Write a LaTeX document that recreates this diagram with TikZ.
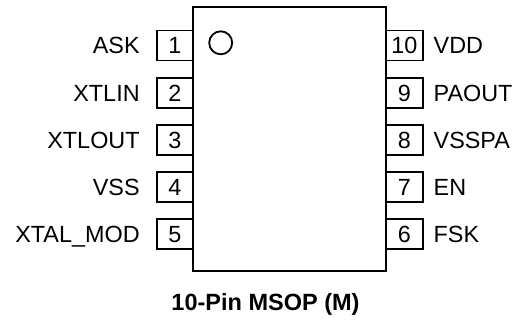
\documentclass[tikz,border=0pt]{standalone}
\usepackage{fontspec}
\setmainfont{Liberation Sans}
\usetikzlibrary{positioning}

\begin{document}
\begin{tikzpicture}[x=1pt, y=-1pt,
    pinbox/.style={draw, line width=1.8pt, minimum width=36.5pt, minimum height=30pt, inner sep=0pt, text height=16.8pt, text depth=0pt, font=\fontsize{23.4}{23.4}\selectfont},
    pinname/.style={inner sep=0pt, text height=16.8pt, text depth=0pt, font=\fontsize{23.4}{23.4}\selectfont}]
    \useasboundingbox (0,0) rectangle (517,321);
    \node[draw, line width=2pt, minimum width=193pt, minimum height=264.3pt] (chip) at (289.8,138.8) {};
    \node[circle, draw, line width=1.8pt, minimum size=23pt, inner sep=0pt] (dot) at (220.7,42.8) {};

    % left side
    \foreach \n/\pinlabel [count=\i from 0] in {1/ASK, 2/XTLIN, 3/XTLOUT, 4/VSS, 5/XTAL\_MOD} {
        \node[pinbox] (p\n) at (175,45.5+47.2*\i) {\n};
        \node[pinname, left=16pt of p\n] (l\n) {\pinlabel};
    }
    % right side
    \foreach \n/\pinlabel [count=\i from 0] in {10/VDD, 9/PAOUT, 8/VSSPA, 7/EN, 6/FSK} {
        \node[pinbox] (p\n) at (404.5,45.5+47.2*\i) {\n};
        \node[pinname, right=9.8pt of p\n] (l\n) {\pinlabel};
    }

    \node[font=\bfseries\fontsize{23.5}{23.5}\selectfont, anchor=base] (title) at (265.5,310) {10-Pin MSOP (M)};
\end{tikzpicture}
\end{document}
